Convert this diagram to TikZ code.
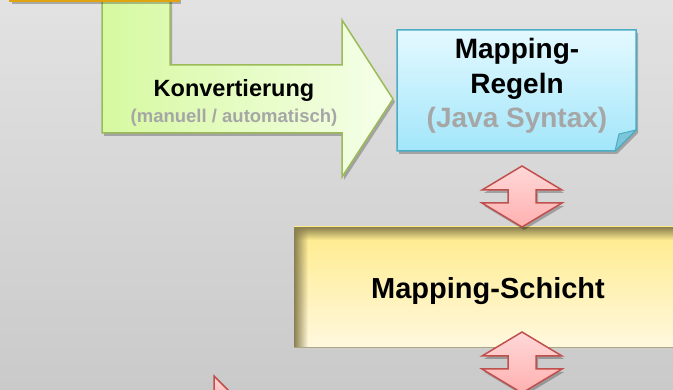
\documentclass[tikz,border=0pt]{standalone}
\usepackage{fontspec}
\setmainfont{Liberation Sans}
\usetikzlibrary{shadows, fadings, positioning}

\definecolor{bgtop}{HTML}{E2E2E2}
\definecolor{bgbottom}{HTML}{CACACA}
\definecolor{convgreen}{HTML}{9BBB59}
\definecolor{convleft}{HTML}{D6F9A0}
\definecolor{convright}{HTML}{F6FFEA}
\definecolor{rulesblue}{HTML}{4BACC6}
\definecolor{rulestop}{HTML}{E4F9FF}
\definecolor{rulesbottom}{HTML}{A2E6FA}
\definecolor{rulesfold}{HTML}{7CC6DA}
\definecolor{layertop}{HTML}{FFEB8A}
\definecolor{layerbottom}{HTML}{FFF8DE}
\definecolor{layeredge}{HTML}{8A8050}
\definecolor{linkred}{HTML}{C0504D}
\definecolor{linktop}{HTML}{FFD8D8}
\definecolor{linkbottom}{HTML}{FFB0B0}
\definecolor{srcfill}{HTML}{FAD55A}
\definecolor{srcedge}{HTML}{E0A410}
\definecolor{subtext}{HTML}{A6A6A6}

\begin{document}
\begin{tikzpicture}[
    x=1pt, y=-1pt,
    softshadow/.style={drop shadow={shadow xshift=2pt, shadow yshift=-3pt, opacity=.25, fill=black}},
    srcbox/.style={draw=srcedge, fill=srcfill, line width=1.5pt, softshadow},
    convarrow/.style={draw=convgreen, line width=1.5pt, left color=convleft, right color=convright, softshadow},
    rulesbox/.style={draw=rulesblue, line width=1.5pt, top color=rulestop, bottom color=rulesbottom, softshadow},
    layerbox/.style={draw=layeredge!70, line width=.8pt, top color=layertop, bottom color=layerbottom},
    linkarrow/.style={draw=linkred, line width=1.5pt, top color=linktop, bottom color=linkbottom, softshadow},
    maintext/.style={font=\bfseries\fontsize{28}{34.5}\selectfont, align=center, inner sep=0pt},
    smalltext/.style={font=\bfseries\fontsize{18.5}{22}\selectfont, text=subtext, inner sep=0pt}
]
    \useasboundingbox (0,0) rectangle (673,390);
    \clip (0,0) rectangle (673,390);
    \shade[top color=bgtop, bottom color=bgbottom] (0,0) rectangle (673,390);

    \path[convarrow] (102,-10) -- (170,-10) -- (170,65) -- (342,65) -- (342,20) -- (393,99)
        -- (342,177) -- (342,133) -- (102,133) -- cycle;
    \path[srcbox] (10,-30) rectangle (179,1);

    \node[font=\bfseries\fontsize{23.5}{28}\selectfont, inner sep=0pt] (conv) at (234,90) {Konvertierung};
    \node[smalltext, below=8pt of conv] (convmode) {(manuell / automatisch)};

    \path[rulesbox] (397,30) -- (636,30) -- (636,130) -- (615,151) -- (397,151) -- cycle;
    \filldraw[draw=rulesblue, fill=rulesfold, line width=1pt] (636,130) -- (619,134) -- (615,151) -- cycle;
    \node[maintext] (rules) at (517,86) {Mapping-\\Regeln\\\textcolor{subtext}{(Java Syntax)}};

    \path[layerbox] (294,227) rectangle (690,347);
    \fill[layeredge, path fading=east] (294,227) rectangle (308,347);
    \fill[layeredge, path fading=south] (294,227) rectangle (690,240);
    \node[maintext, font=\bfseries\fontsize{29}{34}\selectfont] (layer) at (488,291) {Mapping-Schicht};

    \foreach \ytop/\nm in {166/upper, 332/lower} {
        \path[linkarrow] (522,\ytop) coordinate (link\nm) -- ++(40,24) -- ++(-26,0) -- ++(0,13) -- ++(26,0)
            -- ++(-40,24) -- ++(-40,-24) -- ++(26,0) -- ++(0,-13) -- ++(-26,0) -- cycle;
    }

    \path[linkarrow] (214,376) -- (240,402) -- (214,402) -- cycle;
\end{tikzpicture}
\end{document}
